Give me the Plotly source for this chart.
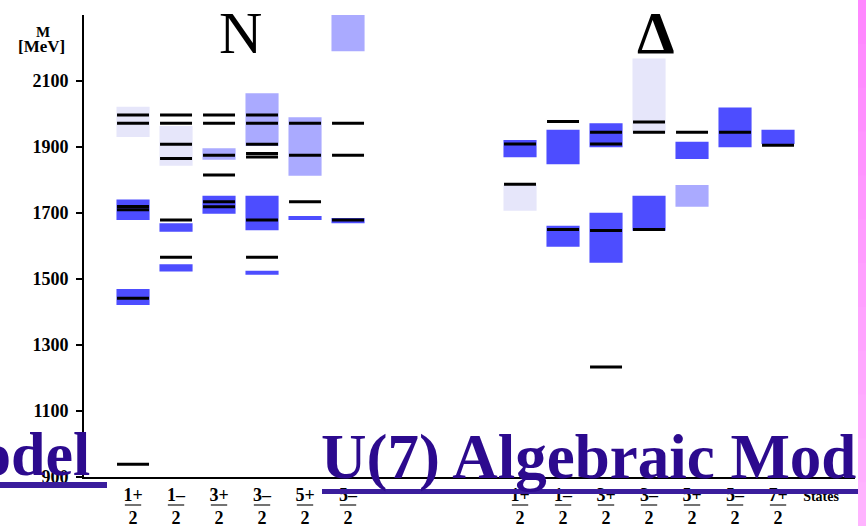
import plotly.graph_objects as go

# ---------------- data ----------------
n_states = ["1+", "1–", "3+", "3–", "5+", "5–"]          # numerator 2J and parity, J = n/2
delta_states = ["1+", "1–", "3+", "3–", "5+", "5–", "7+"]

# model levels (black bars), MeV
n_model = [
    [939, 1442, 1710, 1720, 1972, 1997],
    [1566, 1679, 1865, 1908, 1972, 1997],
    [1719, 1734, 1815, 1875, 1972, 1997],
    [1566, 1679, 1870, 1880, 1908, 1972, 1997],
    [1734, 1875, 1972],
    [1679, 1875, 1972],
]
delta_model = [
    [1787, 1909],
    [1650, 1977],
    [1233, 1647, 1909, 1945],
    [1650, 1945, 1976],
    [1945],
    [1945],
    [1905],
]

# experimental ranges (low, high, stars)
n_exp = [
    [(1930, 2022, 1), (1679, 1741, 4), (1421, 1470, 4)],
    [(1843, 1964, 1), (1643, 1669, 4), (1523, 1545, 4)],
    [(1861, 1896, 2), (1698, 1752, 4)],
    [(1903, 2063, 2), (1648, 1752, 4), (1513, 1525, 4)],
    [(1813, 1990, 2), (1679, 1691, 4)],
    [(2190, 2307, 2), (1669, 1685, 4)],
]
delta_exp = [
    [(1869, 1921, 4), (1707, 1785, 1)],
    [(1848, 1952, 4), (1598, 1661, 4)],
    [(1899, 1972, 4), (1549, 1701, 4)],
    [(1941, 2168, 1), (1646, 1752, 4)],
    [(1864, 1916, 4), (1719, 1785, 2)],
    [(1899, 2020, 4)],
    [(1909, 1952, 4)],
]

y_ticks = [900, 1100, 1300, 1500, 1700, 1900, 2100]

# ---------------- styling helpers ----------------
W, H = 866, 526
ML, MR, MT, MB = 84, 11, 15, 49
PW, PH = W - ML - MR, H - MT - MB
DELTA_OFFSET = 9
STAR_COLORS = {4: "#4d4dff", 3: "#4d4dff", 2: "#aaaaff", 1: "#e6e6fa"}
SERIF = "Liberation Serif"
PURPLE = "#2c0a8e"


def pxx(px):
    return (px - ML) / PW


def pxy(py):
    return (H - MB - py) / PH


fig = go.Figure()
shapes = []
annotations = []

columns = [(i, n_exp[i], n_model[i]) for i in range(len(n_states))] + \
          [(DELTA_OFFSET + j, delta_exp[j], delta_model[j]) for j in range(len(delta_states))]

bw, lw = 0.385, 0.372
for x, exps, models in columns:
    for lo, hi, st in exps:
        shapes.append(dict(type="rect", xref="x", yref="y", x0=x - bw, x1=x + bw, y0=lo, y1=hi,
                           fillcolor=STAR_COLORS[st], line=dict(width=0), layer="above"))
for x, exps, models in columns:
    for m in models:
        shapes.append(dict(type="line", xref="x", yref="y", x0=x - lw, x1=x + lw, y0=m, y1=m,
                           line=dict(color="black", width=3), layer="above"))

tickvals = list(range(len(n_states))) + [DELTA_OFFSET + j for j in range(len(delta_states))] + [16]
ticktext = [f"{s}<br>2" for s in n_states] + [f"{s}<br>2" for s in delta_states] + \
           ["<span style='font-size:14px'>States</span>"]

# fraction bars under numerators
for tv in tickvals[:-1]:
    shapes.append(dict(type="line", xref="x", yref="paper", x0=tv - 0.19, x1=tv + 0.19,
                       y0=pxy(505), y1=pxy(505), line=dict(color="#444", width=1.5), layer="above"))

# invisible trace to set up axes
fig.add_trace(go.Scatter(x=[0], y=[900], mode="markers", marker=dict(opacity=0), hoverinfo="skip",
                         showlegend=False))

# slide overlay elements
shapes.append(dict(type="rect", xref="paper", yref="paper", x0=pxx(0), x1=pxx(107),
                   y0=pxy(488), y1=pxy(482), fillcolor="#3a1d9c", line=dict(width=0), layer="above"))
shapes.append(dict(type="rect", xref="paper", yref="paper", x0=pxx(322), x1=pxx(870),
                   y0=pxy(494), y1=pxy(489), fillcolor="#3a1d9c", line=dict(width=0), layer="above"))
# pink strip with gradient
steps = 12
for k in range(steps):
    t = k / (steps - 1)
    g = int(136 + t * 44)
    shapes.append(dict(type="rect", xref="paper", yref="paper", x0=pxx(858), x1=pxx(870),
                       y0=pxy(H * (k + 1) / steps + 1), y1=pxy(H * k / steps),
                       fillcolor=f"rgb(255,{g},255)", line=dict(width=0), layer="above"))

annotations += [
    dict(text="N", xref="paper", yref="paper", x=pxx(240.5), y=pxy(33), showarrow=False,
         font=dict(family=SERIF, size=60, color="black"), xanchor="center", yanchor="middle"),
    dict(text="Δ", xref="paper", yref="paper", x=pxx(656), y=pxy(33), showarrow=False,
         font=dict(family=SERIF, size=60, color="black", weight="bold"), xanchor="center", yanchor="middle"),
    dict(text="M", xref="paper", yref="paper", x=pxx(43), y=pxy(32), showarrow=False,
         font=dict(family=SERIF, size=15, color="black", weight="bold"), xanchor="center", yanchor="middle"),
    dict(text="[MeV]", xref="paper", yref="paper", x=pxx(41), y=pxy(47), showarrow=False,
         font=dict(family=SERIF, size=17, color="black", weight="bold"), xanchor="center", yanchor="middle"),
    dict(text="odel", xref="paper", yref="paper", x=pxx(92), y=pxy(454), showarrow=False,
         font=dict(family=SERIF, size=62, color=PURPLE, weight="bold"), xanchor="right", yanchor="middle"),
    dict(text="U(7) Algebraic Mod", xref="paper", yref="paper", x=pxx(319), y=pxy(457), showarrow=False,
         font=dict(family=SERIF, size=63, color=PURPLE, weight="bold"), xanchor="left", yanchor="middle"),
]

fig.update_layout(
    width=W, height=H, margin=dict(l=ML, r=MR, t=MT, b=MB, autoexpand=False),
    paper_bgcolor="white", plot_bgcolor="white",
    shapes=shapes, annotations=annotations, showlegend=False,
    xaxis=dict(range=[-1.14, 16.79], showgrid=False, zeroline=False, showline=True,
               linecolor="black", linewidth=2, tickvals=tickvals, ticktext=ticktext, ticks="",
               tickfont=dict(family=SERIF, size=18, color="black", weight="bold"),
               ticklabelstandoff=0, automargin=False),
    yaxis=dict(range=[900, 2300], showgrid=False, zeroline=False, showline=True,
               linecolor="black", linewidth=2, tickvals=y_ticks, ticks="outside", ticklen=6,
               tickwidth=2, tickcolor="black",
               tickfont=dict(family=SERIF, size=18, color="black", weight="bold"),
               ticklabelstandoff=4, automargin=False),
)

fig.write_html("out.html", config={"displayModeBar": False},
               post_script="document.body.style.margin='0';")
